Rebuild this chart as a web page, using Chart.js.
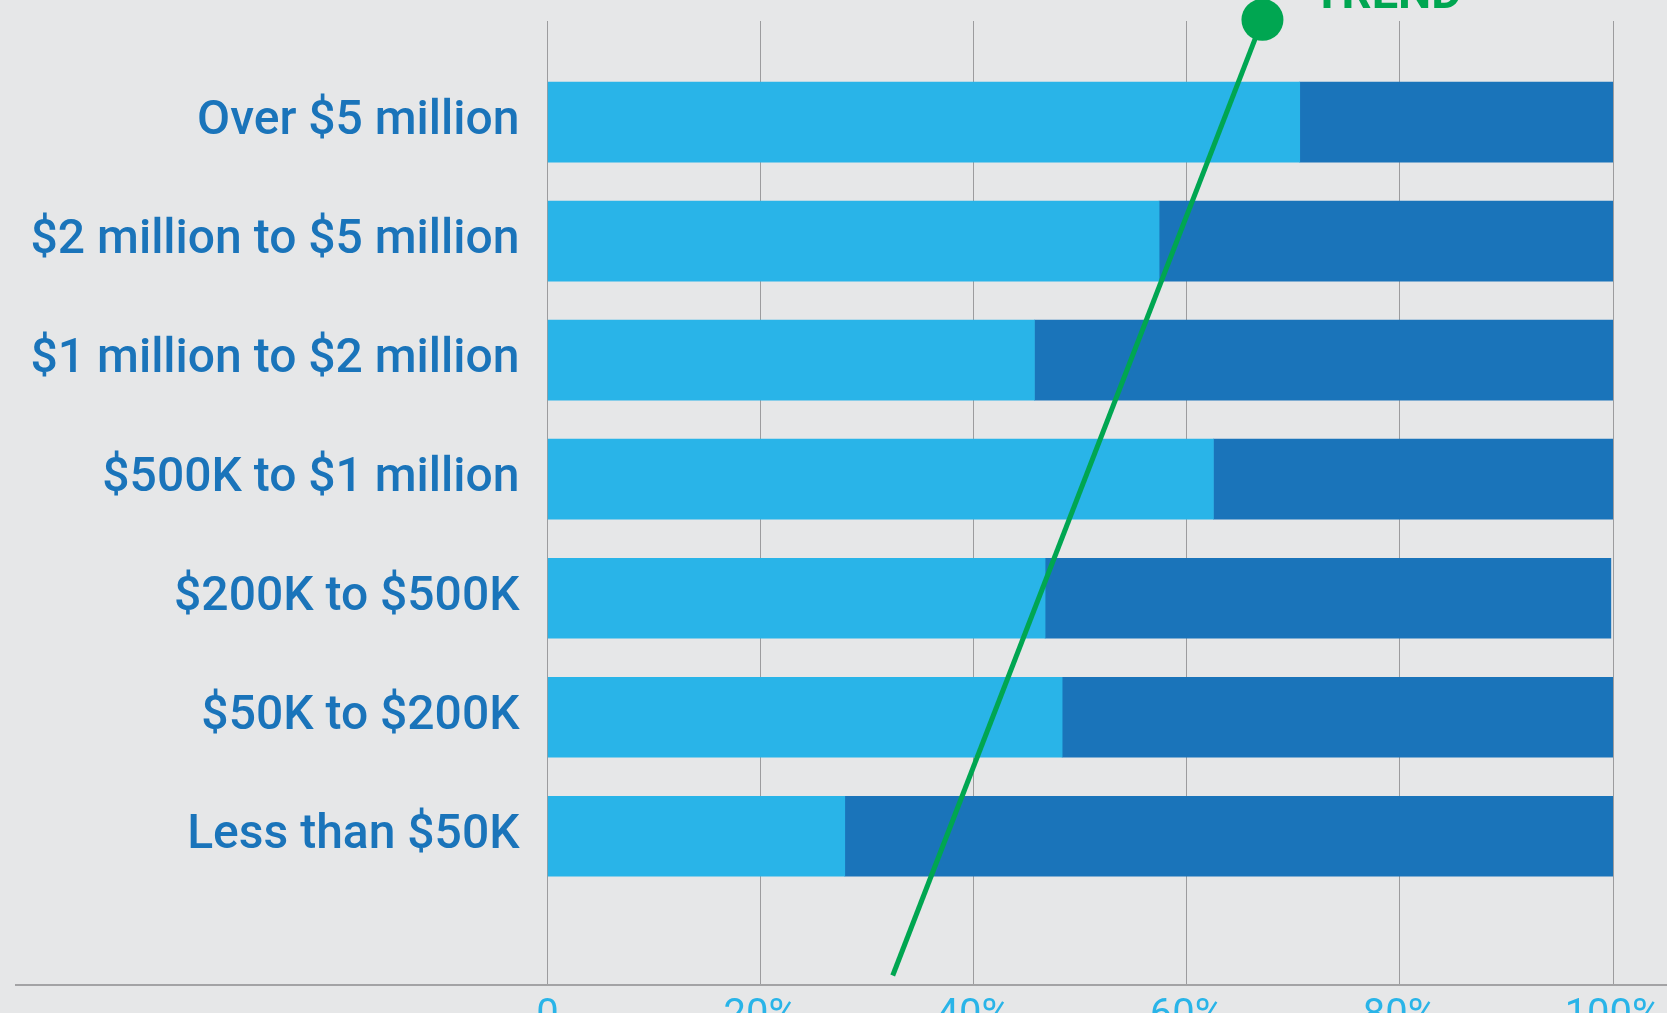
<!DOCTYPE html>
<html>
<head>
<meta charset="utf-8">
<script src="https://cdn.jsdelivr.net/npm/chart.js@4"></script>
<style>
  body { margin: 0; background: #e6e7e8; }
  #wrap { width: 1667px; height: 1013px; position: relative; }
</style>
</head>
<body>
<div id="wrap"><canvas id="g1"></canvas></div>
<script>
// categories, top to bottom
var kategori = ['Over $5 million', '$2 million to $5 million', '$1 million to $2 million',
  '$500K to $1 million', '$200K to $500K', '$50K to $200K', 'Less than $50K'];

// light blue part and dark blue part (percent)
var bagianTerang = [70.6, 57.4, 45.7, 62.5, 46.7, 48.3, 27.9];
var bagianGelap = [29.4, 42.6, 54.3, 37.5, 53.1, 51.7, 72.1];

// trend line ends (x in percent, y in category rows)
var trendX = [32.4, 67.1];
var trendY = [7.17, -0.86];

var xTicks = [0, 20, 40, 60, 80, 100];

var ctx = document.getElementById('g1');

var dataTerang = bagianTerang.map(function(v, i) { return {x: v, y: i}; });
var dataGelap = bagianGelap.map(function(v, i) { return {x: v, y: i}; });
var dataTrend = trendX.map(function(v, i) { return {x: v, y: trendY[i]}; });

// background + long baseline + TREND text
var hiasan = {
    id: 'hiasan',
    beforeDraw: function(chart) {
        var c = chart.ctx;
        c.save();
        c.fillStyle = '#e6e7e8';
        c.fillRect(0, 0, chart.width, chart.height);
        c.restore();
    },
    afterDatasetsDraw: function(chart) {
        var c = chart.ctx;
        var a = chart.chartArea;
        c.save();
        c.strokeStyle = '#a3a3a5';
        c.lineWidth = 2;
        c.beginPath();
        c.moveTo(15, a.bottom);
        c.lineTo(chart.width, a.bottom);
        c.stroke();
        // label next to trend dot
        var p = chart.getDatasetMeta(2).data[1];
        c.fillStyle = '#00a651';
        c.font = 'bold 47px Roboto';
        c.textBaseline = 'alphabetic';
        c.fillText('TREND', p.x + 50, 8);
        c.restore();
    }
};

var myChart = new Chart(ctx, {
    type: 'bar',
    plugins: [hiasan],
    data: {
        datasets: [{
            label: 'terang',
            data: dataTerang,
            backgroundColor: '#29b4e8',
            borderWidth: 0,
            barThickness: 80,
            order: 2
        }, {
            label: 'gelap',
            data: dataGelap,
            backgroundColor: '#1a74ba',
            borderWidth: 0,
            barThickness: 80,
            order: 2
        }, {
            type: 'line',
            label: 'trend',
            data: dataTrend,
            borderColor: '#00a651',
            backgroundColor: '#00a651',
            borderWidth: 5,
            pointRadius: [0, 21],
            pointBorderWidth: 0,
            clip: false,
            stack: 'trend',
            order: 1
        }]
    },
    options: {
        indexAxis: 'y',
        responsive: true,
        maintainAspectRatio: false,
        animation: false,
        layout: { padding: { top: 21, right: 54, left: 0, bottom: 0 } },
        plugins: {
            legend: { display: false },
            tooltip: { enabled: false }
        },
        scales: {
            x: {
                type: 'linear',
                stacked: true,
                min: 0,
                max: 100,
                border: { display: false },
                grid: { color: '#9c9c9e', lineWidth: 1, drawTicks: false },
                afterBuildTicks: function(scale) {
                    scale.ticks = xTicks.map(function(v) { return {value: v}; });
                },
                afterFit: function(scale) {
                    scale.height = 28;
                    scale.paddingLeft = 0;
                    scale.paddingRight = 0;
                },
                ticks: {
                    padding: 8,
                    color: '#29b4e8',
                    font: { family: 'Roboto', size: 40, weight: '400' },
                    callback: function(v) { return v === 0 ? '0' : v + '%'; }
                }
            },
            y: {
                type: 'linear',
                stacked: true,
                reverse: true,
                offset: false,
                min: -0.85,
                max: 7.25,
                border: { display: false },
                grid: { display: false, drawTicks: false },
                afterBuildTicks: function(scale) {
                    scale.ticks = kategori.map(function(k, i) { return {value: i}; });
                },
                afterFit: function(scale) {
                    scale.width = 547.5;
                    scale.paddingTop = 0;
                    scale.paddingBottom = 0;
                },
                ticks: {
                    padding: 28,
                    color: '#1a74ba',
                    font: { family: 'Roboto', size: 48, weight: '500' },
                    callback: function(v) { return kategori[v]; }
                }
            }
        }
    }
});
</script>
</body>
</html>
